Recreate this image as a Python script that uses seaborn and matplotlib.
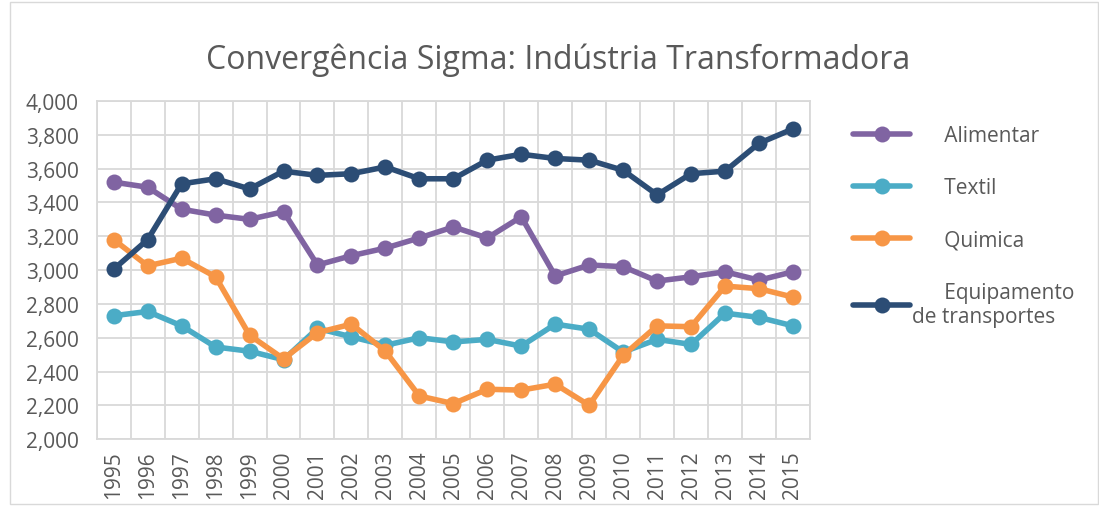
import pandas as pd
import matplotlib.pyplot as plt
import matplotlib.ticker as mticker
from matplotlib.patches import Rectangle
import seaborn as sns

sns.set_style("white")
plt.rcParams['font.family'] = ['Open Sans', 'DejaVu Sans']

anos = list(range(1995, 2016))
alimentar = [3520, 3490, 3360, 3325, 3300, 3345, 3030, 3085, 3130, 3190, 3255,
             3190, 3315, 2965, 3030, 3020, 2935, 2960, 2990, 2940, 2990]
textil = [2730, 2755, 2670, 2545, 2520, 2470, 2655, 2605, 2555, 2600, 2575,
          2590, 2550, 2680, 2650, 2515, 2590, 2560, 2745, 2720, 2670]
quimica = [3180, 3025, 3070, 2960, 2615, 2475, 2630, 2680, 2520, 2255, 2210,
           2295, 2290, 2325, 2200, 2495, 2670, 2665, 2905, 2890, 2840]
equipamento = [3005, 3180, 3510, 3540, 3480, 3585, 3560, 3570, 3610, 3540, 3540,
               3650, 3685, 3660, 3650, 3590, 3445, 3570, 3585, 3750, 3835]

series = ['Alimentar', 'Textil', 'Quimica', 'Equipamento de transportes']
cores = ['#8064A2', '#4BACC6', '#F79646', '#2C4D75']

df = pd.DataFrame({
    'pos': list(range(len(anos))) * 4,
    'valor': alimentar + textil + quimica + equipamento,
    'serie': [s for s in series for _ in anos],
})

fig = plt.figure(figsize=(10.99, 5.10), dpi=100)
ax = fig.add_axes([0.088, 0.137, 0.649, 0.663])
sns.lineplot(data=df, x='pos', y='valor', hue='serie', hue_order=series,
             palette=cores, marker='o', markersize=11.5, markeredgewidth=0,
             linewidth=4, ax=ax, legend=False)

ax.set_xlim(-0.5, len(anos) - 0.5)
ax.set_ylim(2000, 4000)
ax.set_xticks(range(len(anos)))
ax.set_xticklabels([str(a) for a in anos], rotation=90, fontsize=15, color='#595959')
ax.set_xticks([i - 0.5 for i in range(len(anos) + 1)], minor=True)
ax.yaxis.set_major_locator(mticker.MultipleLocator(200))
ax.yaxis.set_major_formatter(mticker.StrMethodFormatter('{x:,.0f}'))
ax.tick_params(axis='y', labelsize=15, labelcolor='#595959', length=0, pad=13)
ax.tick_params(axis='x', which='both', length=0, pad=8)
ax.grid(True, axis='y', which='major', color='#D9D9D9', linewidth=1.3)
ax.grid(True, axis='x', which='minor', color='#D9D9D9', linewidth=1.3)
ax.set_xlabel('')
ax.set_ylabel('')
for s in ax.spines.values():
    s.set_color('#D9D9D9')
    s.set_linewidth(1.3)

fig.suptitle('Convergência Sigma: Indústria Transformadora', fontsize=23,
             color='#595959', x=0.508, y=0.882, va='center')

# legenda
rotulos = ['      Alimentar', '      Textil', '      Quimica',
           '      Equipamento\nde transportes']
handles = [plt.Line2D([], [], color=c, linewidth=4, marker='o', markersize=11.5,
                      markeredgewidth=0) for c in cores]
leg = fig.legend(handles, rotulos, loc='upper left', bbox_to_anchor=(0.759, 0.79),
                 frameon=False, fontsize=15, labelspacing=1.5, handlelength=2.75,
                 handletextpad=0.1)
for t in leg.get_texts():
    t.set_color('#595959')

fig.patches.append(Rectangle((0.009, 0.01), 0.99, 0.985, transform=fig.transFigure,
                             fill=False, edgecolor='#D9D9D9', linewidth=1))

plt.savefig('out.png', dpi=100)
